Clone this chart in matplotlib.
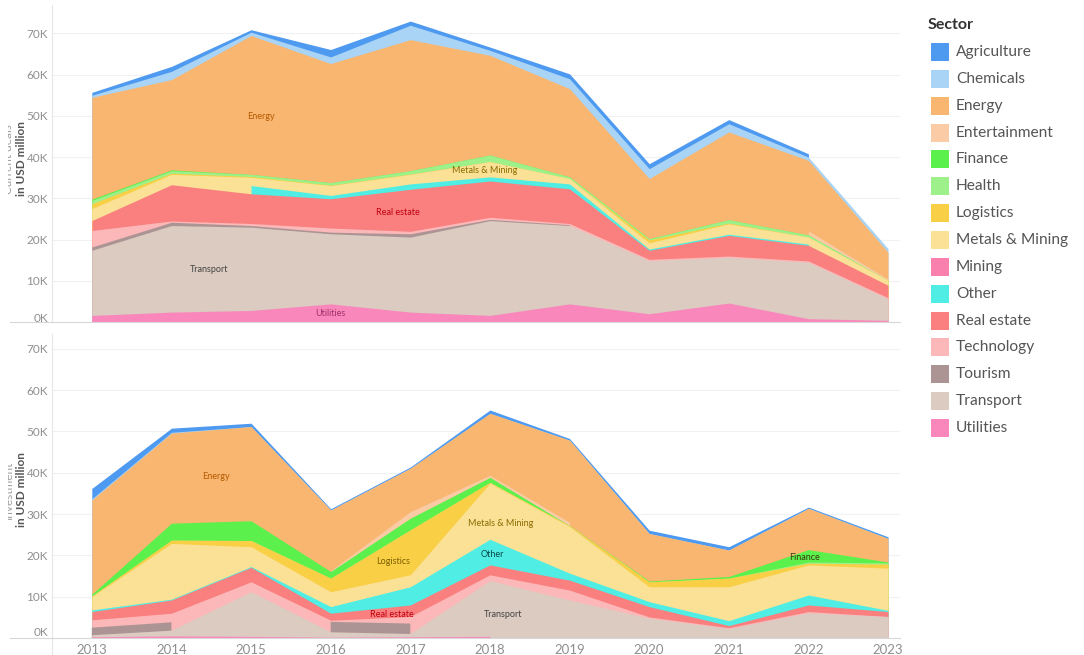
import numpy as np
import matplotlib
matplotlib.use("Agg")
import matplotlib.pyplot as plt
from matplotlib.patches import Rectangle
from matplotlib.lines import Line2D
from matplotlib.transforms import Bbox, TransformedBbox, ScaledTranslation
from matplotlib.ticker import FixedLocator, FuncFormatter

plt.rcParams['font.family'] = ['Lato', 'DejaVu Sans']

nan = np.nan
years = [2013, 2014, 2015, 2016, 2017, 2018, 2019, 2020, 2021, 2022, 2023]

sectors = ["Agriculture", "Chemicals", "Energy", "Entertainment", "Finance", "Health",
           "Logistics", "Metals & Mining", "Mining", "Other", "Real estate",
           "Technology", "Tourism", "Transport", "Utilities"]
sector_colors = ["#4E9AF0", "#A9D4F5", "#F9B670", "#FBCBA5", "#5CF04C", "#9DF08A",
                 "#F9CF45", "#FBE196", "#F97FAD", "#4FEDE3", "#F9807F",
                 "#FCB8B8", "#AD9494", "#DBCBC1", "#F987BB"]

# ---- Top panel (construction), USD million ----
con_agriculture = [700, 1200, 600, 1800, 1000, 800, 1200, 1200, 1000, 800, nan]
con_chemicals = [500, 2000, 800, 1600, 3500, 1200, 2400, 2400, 2000, 800, 900]
con_energy = [24700, 21900, 33700, 28900, 31800, 24200, 21400, 14600, 21300, 17100, 6500]
con_entertainment = [nan, nan, nan, nan, nan, nan, nan, nan, nan, 1000, 300]
con_finance = [300, 200, 0, 0, 0, 0, 0, 0, 0, 0, 0]
con_health = [800, 600, 500, 600, 800, 1600, 400, 300, 800, 500, 0]
con_logistics = [1200, 300, 200, 100, 100, 0, 0, 700, 200, 0, 0]
con_metals_mining = [2900, 2500, 2000, 2400, 2300, 3700, 1300, 1500, 2500, 1700, 1200]
con_mining = [nan, nan, nan, nan, nan, nan, nan, nan, nan, nan, nan]
con_other = [nan, nan, 2000, 800, 1300, 1000, 1200, 300, 300, 300, nan]
con_real_estate = [2400, 8800, 7200, 7100, 10200, 8800, 8400, 2200, 5000, 3800, 3000]
con_technology = [4000, 300, 500, 1000, 600, 500, 300, 300, 300, 300, 300]
con_tourism = [800, 800, 400, 400, 800, 300, 200, nan, nan, nan, nan]
con_transport = [15800, 21000, 20200, 17000, 18200, 23000, 19000, 12900, 11100, 13700, 5200]
con_utilities = [1600, 2400, 2800, 4400, 2400, 1600, 4400, 2000, 4600, 800, 400]

# ---- Bottom panel (investment), USD million ----
inv_agriculture = [2500, 1000, 800, 300, 300, 800, 400, 800, 800, 300, 400]
inv_chemicals = [300, 200, 0, 0, 0, 0, 0, 0, 0, 0, 0]
inv_energy = [22800, 21800, 22800, 14700, 10500, 15000, 19900, 11500, 6400, 10000, 5700]
inv_entertainment = [nan, nan, nan, 200, 1600, 500, 800, nan, nan, nan, nan]
inv_finance = [400, 4100, 4800, 1600, 2800, 1200, 0, 200, 400, 3000, 200]
inv_health = [0, 0, 0, 0, 0, 0, 0, 0, 0, 300, 300]
inv_logistics = [200, 800, 1500, 3300, 10900, 200, 200, 1200, 2100, 400, 1000]
inv_metals_mining = [3200, 13500, 4800, 3600, 2900, 13600, 11300, 3600, 8200, 7300, 10200]
inv_mining = [nan, nan, nan, nan, nan, nan, nan, nan, nan, nan, nan]
inv_other = [400, 200, 200, 1600, 4400, 6200, 1700, 1200, 1200, 2400, 300]
inv_real_estate = [2000, 3200, 3500, 1700, 2800, 2400, 2400, 2500, 500, 1600, 1200]
inv_technology = [1900, 2200, 2400, 400, 1700, 1400, 2400, 300, 200, 300, 0]
inv_tourism = [1700, 1900, nan, 2400, 2400, nan, nan, nan, nan, nan, nan]
inv_transport = [500, 1400, 10800, 1300, 800, 13500, 9200, 4800, 2300, 6100, 5200]
inv_utilities = [300, 500, 400, 200, 300, 400, nan, nan, nan, nan, nan]

con_layers = [con_agriculture, con_chemicals, con_energy, con_entertainment, con_finance,
              con_health, con_logistics, con_metals_mining, con_mining, con_other,
              con_real_estate, con_technology, con_tourism, con_transport, con_utilities]
inv_layers = [inv_agriculture, inv_chemicals, inv_energy, inv_entertainment, inv_finance,
              inv_health, inv_logistics, inv_metals_mining, inv_mining, inv_other,
              inv_real_estate, inv_technology, inv_tourism, inv_transport, inv_utilities]

yticks = [0, 10000, 20000, 30000, 40000, 50000, 60000, 70000]

W, H = 1084, 655
fig = plt.figure(figsize=(W / 100, H / 100), dpi=100)

def fx(px):
    return px / W

def fy(py):
    return 1 - py / H

ax1 = fig.add_axes([fx(52), fy(322), fx(900 - 52), (322 - 5) / H])
ax2 = fig.add_axes([fx(52), fy(638), fx(900 - 52), (638 - 334) / H])

def draw(ax, layers, ymax):
    vals = [np.array(v, dtype=float) for v in layers]
    n = len(vals)
    cum = np.zeros(len(years))
    tops = [None] * n
    for i in reversed(range(n)):
        cum = cum + np.nan_to_num(vals[i])
        tops[i] = cum.copy()
    for i in range(n):
        y = np.where(np.isnan(vals[i]), np.nan, tops[i])
        ax.fill_between(years, 0, y, color=sector_colors[i], lw=0, zorder=2 + i * 0.01)
    ax.set_xlim(2012.5, 2023.15)
    ax.set_ylim(0, ymax)
    ax.yaxis.set_major_locator(FixedLocator(yticks))
    ax.yaxis.set_major_formatter(FuncFormatter(lambda v, p: f"{v/1000:.0f}K"))
    ax.grid(axis='y', color='#f1f1f1', lw=0.8, zorder=0)
    ax.set_axisbelow(True)
    for s in ['top', 'right']:
        ax.spines[s].set_visible(False)
    ax.spines['left'].set_color('#e6e6e6')
    ax.spines['bottom'].set_visible(False)
    ax.tick_params(axis='y', length=0, pad=3, labelsize=8.5, labelcolor='#8f8f8f')
    ax.tick_params(axis='x', length=0, pad=4, labelsize=9.5, labelcolor='#8f8f8f')
    ax.set_xticks(years)
    ax.set_xticklabels([str(y) for y in years])

draw(ax1, con_layers, 76900)
draw(ax2, inv_layers, 73600)
ax1.tick_params(axis='x', labelbottom=False)

# baselines extending to the left like the reference
for py in (322, 638):
    fig.add_artist(Line2D([fx(10), fx(900)], [fy(py), fy(py)], transform=fig.transFigure,
                          color='#d8d8d8', lw=0.8, zorder=10))
fig.add_artist(Line2D([fx(52), fx(52)], [fy(638), fy(655)], transform=fig.transFigure,
                      color='#e6e6e6', lw=0.8))

# lift the 0K labels above the baselines like the reference
for ax, dy in ((ax1, 3), (ax2, 5)):
    for lab in ax.get_yticklabels():
        if lab.get_text() == "0K":
            lab.set_transform(lab.get_transform() + ScaledTranslation(0, dy / 72, fig.dpi_scale_trans))

# in-area labels
lab_kw = dict(fontsize=6.5, ha='center', va='center', zorder=5)
ax1.text(2015.13, 49900, "Energy", color="#B35A00", **lab_kw)
ax1.text(2017.93, 36800, "Metals & Mining", color="#8A6A00", **lab_kw)
ax1.text(2016.85, 26600, "Real estate", color="#C00010", **lab_kw)
ax1.text(2014.47, 12700, "Transport", color="#444444", **lab_kw)
ax1.text(2016.0, 2100, "Utilities", color="#A0306A", **lab_kw)

ax2.text(2014.56, 39000, "Energy", color="#B35A00", **lab_kw)
ax2.text(2016.79, 18400, "Logistics", color="#7A6000", **lab_kw)
ax2.text(2016.77, 5800, "Real estate", color="#C00010", **lab_kw)
ax2.text(2018.13, 27800, "Metals & Mining", color="#8A6A00", **lab_kw)
ax2.text(2018.03, 20100, "Other", color="#0A4A4A", **lab_kw)
ax2.text(2018.16, 5800, "Transport", color="#444444", **lab_kw)
ax2.text(2021.95, 19600, "Finance", color="#3A3A10", **lab_kw)

# y-axis titles (first line clipped like in the reference)
for cy, first in [(159, "Current deals"), (490, "Investment")]:
    t = fig.text(fx(8.5), fy(cy), first, rotation=90, ha='center', va='center',
                 fontsize=8.5, color='#a0a0a0')
    t.set_clip_box(TransformedBbox(Bbox([[fx(8), 0], [1, 1]]), fig.transFigure))
    t.set_clip_on(True)
    fig.text(fx(21.5), fy(cy), "in USD million", rotation=90, ha='center', va='center',
             fontsize=8.5, color='#555555', fontweight='bold')

# legend
fig.text(fx(928), fy(25), "Sector", fontsize=11.5, fontweight='bold', color='#333333',
         ha='left', va='center')
for i, (name, col) in enumerate(zip(sectors, sector_colors)):
    cy = 52 + 26.86 * i
    fig.add_artist(Rectangle((fx(931), fy(cy + 9)), fx(18), 18 / H, transform=fig.transFigure,
                             facecolor=col, edgecolor='none'))
    fig.text(fx(956), fy(cy), name, fontsize=11.2, color='#555555', ha='left', va='center')

fig.savefig("out.png", dpi=100)
